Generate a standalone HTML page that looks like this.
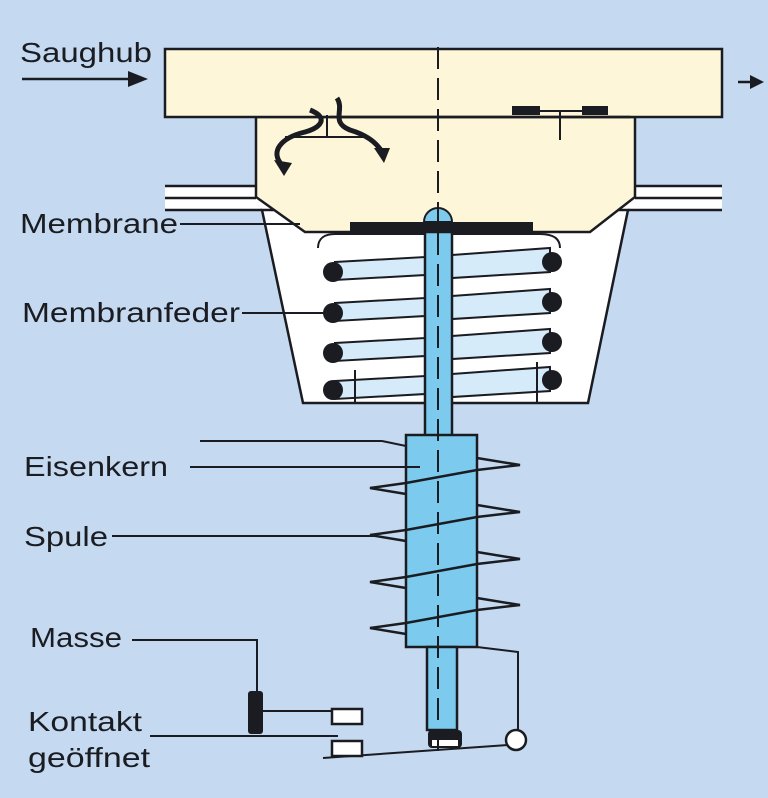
<!DOCTYPE html>
<html><head><meta charset="utf-8"><style>
html,body{margin:0;padding:0;background:#c5daf0;}
svg{display:block}
text{font-family:"Liberation Sans",sans-serif;font-size:28px;fill:#1a1c22}
</style></head><body>
<svg width="768" height="798" viewBox="0 0 768 798" xmlns="http://www.w3.org/2000/svg">
<rect width="768" height="798" fill="#c5daf0"/>
<g stroke="#1a1c22" stroke-width="2.5" fill="none">
<rect x="165" y="187" width="557" height="22" fill="#fff" stroke="none"/>
<line x1="165" y1="186" x2="256" y2="186"/><line x1="165" y1="198" x2="256" y2="198"/><line x1="165" y1="210" x2="262" y2="210"/>
<line x1="635" y1="186" x2="722" y2="186"/><line x1="635" y1="198" x2="722" y2="198"/><line x1="628" y1="210" x2="722" y2="210"/>
<polygon points="262,210 303,403 588,403 628,210" fill="#fff"/>
<polygon points="256,117 256,197 305,232 590,232 635,197 635,117" fill="#fdf6d8"/>
<rect x="165" y="49" width="557" height="68" fill="#fdf6d8"/>
<line x1="330" y1="117" x2="630" y2="117"/>
</g>
<rect x="512" y="106" width="28" height="9" fill="#1a1c22"/><rect x="582" y="106" width="26" height="9" fill="#1a1c22"/>
<line x1="560" y1="110" x2="560" y2="140" stroke="#1a1c22" stroke-width="2"/>
<line x1="540" y1="111" x2="582" y2="111" stroke="#1a1c22" stroke-width="2"/>
<line x1="327" y1="115" x2="327" y2="137" stroke="#1a1c22" stroke-width="2"/>
<line x1="285" y1="137" x2="365" y2="137" stroke="#1a1c22" stroke-width="2"/>
<g stroke="#1a1c22" stroke-width="5" fill="none">
<path d="M310,110 C330,118 320,128 305,132 C280,138 270,152 282,165"/>
<path d="M337,98 C345,110 330,122 350,130 C370,136 378,145 382,152"/>
</g>
<polygon points="274,160 292,163 284,176" fill="#1a1c22"/>
<polygon points="374,148 390,148 384,163" fill="#1a1c22"/>
<line x1="22" y1="79" x2="130" y2="79" stroke="#1a1c22" stroke-width="2.5"/>
<polygon points="128,71 148,79 128,87" fill="#1a1c22"/>
<line x1="738" y1="82" x2="752" y2="82" stroke="#1a1c22" stroke-width="2.5"/>
<polygon points="750,75 764,82 750,89" fill="#1a1c22"/>
<path d="M318,248 C318,238 325,234 335,234 L540,234 C552,234 560,238 560,248" stroke="#1a1c22" stroke-width="2" fill="none"/>
<rect x="350" y="222" width="183" height="12" fill="#1a1c22"/>
<path d="M424,222 A14,14 0 0 1 452,222 Z" fill="#7ccbee" stroke="#1a1c22" stroke-width="2"/>
<g stroke="#1a1c22" stroke-width="2" fill="#d6ebfa">
<polygon points="335,262 425,257 425,275 335,280"/><polygon points="452,255 550,248 550,272 452,278"/>
<polygon points="335,303 425,298 425,316 335,321"/><polygon points="452,296 550,289 550,313 452,319"/>
<polygon points="335,343 425,338 425,356 335,361"/><polygon points="452,336 550,329 550,353 452,359"/>
<polygon points="335,381 425,376 425,394 335,399"/><polygon points="452,374 550,367 550,391 452,397"/>
</g>
<g fill="#1a1c22">
<circle cx="333" cy="272" r="10"/><circle cx="552" cy="262" r="10"/>
<circle cx="333" cy="313" r="10"/><circle cx="552" cy="302" r="10"/>
<circle cx="333" cy="353" r="10"/><circle cx="552" cy="342" r="10"/>
<circle cx="333" cy="390" r="10"/><circle cx="552" cy="380" r="10"/>
</g>
<line x1="355" y1="370" x2="355" y2="403" stroke="#1a1c22" stroke-width="2"/>
<line x1="537" y1="362" x2="537" y2="403" stroke="#1a1c22" stroke-width="2"/>
<rect x="425" y="232" width="27" height="205" fill="#7ccbee" stroke="#1a1c22" stroke-width="2.5"/>
<rect x="406" y="435" width="71" height="212" fill="#7ccbee" stroke="#1a1c22" stroke-width="2.5"/>
<rect x="427" y="647" width="30" height="83" fill="#7ccbee" stroke="#1a1c22" stroke-width="2.5"/>
<rect x="428" y="730" width="34" height="18" rx="4" fill="#1a1c22"/>
<rect x="432" y="740" width="26" height="6" fill="#fff"/>
<g stroke="#1a1c22" stroke-width="2.5" fill="none">
<path d="M477,458 L520,465 L477,470 L406,483 L370,488 L406,494"/>
<path d="M477,505 L520,512 L477,517 L406,530 L370,535 L406,541"/>
<path d="M477,552 L520,559 L477,564 L406,577 L370,582 L406,588"/>
<path d="M477,598 L520,605 L477,610 L406,623 L370,628 L406,634"/>
</g>
<line x1="200" y1="441" x2="382" y2="441" stroke="#1a1c22" stroke-width="2"/>
<line x1="382" y1="441" x2="406" y2="446" stroke="#1a1c22" stroke-width="2"/>
<line x1="190" y1="467" x2="420" y2="467" stroke="#1a1c22" stroke-width="2"/>
<line x1="112" y1="536" x2="375" y2="536" stroke="#1a1c22" stroke-width="2"/>
<line x1="438" y1="47" x2="438" y2="760" stroke="#1a1c22" stroke-width="2" stroke-dasharray="22,9"/>
<g stroke="#1a1c22" stroke-width="2" fill="none">
<path d="M477,647 L518,652 L518,730"/>
<path d="M323,758 L508,745"/>
<path d="M132,640 L257,640 L257,692"/>
<path d="M262,711 L332,711"/>
<path d="M150,736 L338,736"/>
</g>
<circle cx="516" cy="740" r="10" fill="#fff" stroke="#1a1c22" stroke-width="2.5"/>
<rect x="248" y="691" width="15" height="43" rx="3" fill="#1a1c22"/>
<rect x="332" y="709" width="30" height="15" fill="#fff" stroke="#1a1c22" stroke-width="2.5"/>
<rect x="332" y="741" width="30" height="15" fill="#fff" stroke="#1a1c22" stroke-width="2.5"/>
<line x1="180" y1="224" x2="300" y2="224" stroke="#1a1c22" stroke-width="2"/>
<line x1="242" y1="313" x2="330" y2="313" stroke="#1a1c22" stroke-width="2"/>
<text x="20" y="62" textLength="132" lengthAdjust="spacingAndGlyphs">Saughub</text>
<text x="20" y="233" textLength="158" lengthAdjust="spacingAndGlyphs">Membrane</text>
<text x="22" y="322" textLength="218" lengthAdjust="spacingAndGlyphs">Membranfeder</text>
<text x="24" y="476" textLength="144" lengthAdjust="spacingAndGlyphs">Eisenkern</text>
<text x="24" y="546" textLength="84" lengthAdjust="spacingAndGlyphs">Spule</text>
<text x="30" y="647" textLength="92" lengthAdjust="spacingAndGlyphs">Masse</text>
<text x="28" y="731" textLength="114" lengthAdjust="spacingAndGlyphs">Kontakt</text>
<text x="28" y="767" textLength="122" lengthAdjust="spacingAndGlyphs">geöffnet</text>
</svg>
</body></html>
